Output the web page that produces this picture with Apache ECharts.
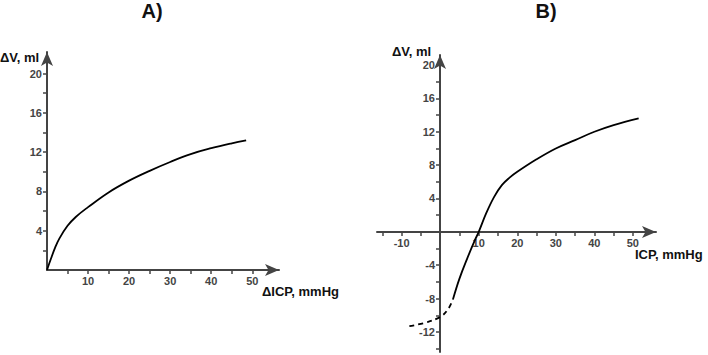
<!DOCTYPE html>
<html>
<head>
<meta charset="utf-8">
<script src="https://cdn.jsdelivr.net/npm/echarts@6/dist/echarts.min.js"></script>
<style>
  html, body { margin: 0; padding: 0; background: #fff; }
  #chart { width: 708px; height: 355px; }
</style>
</head>
<body>
<div id="chart"></div>
<script>
  // panel A: volume change vs ICP change
  const curveA = [
    [0, 0], [1, 1.2], [2, 2.3], [3, 3.2], [5, 4.5], [7, 5.4], [10, 6.4],
    [15, 7.9], [20, 9.1], [25, 10.1], [30, 11.0], [35, 11.8], [40, 12.4],
    [45, 12.9], [48.5, 13.2]
  ]
  // panel B: solid part and dashed low-pressure part
  const curveBSolid = [
    [3.3, -8.1], [5, -5.6], [7, -3.2], [9, -1.0], [10, 0], [12, 2.3],
    [14, 4.2], [16, 5.6], [18, 6.5], [20, 7.2], [25, 8.7], [30, 10.0],
    [35, 11.0], [40, 12.0], [45, 12.8], [51.5, 13.6]
  ]
  const curveBDashed = [
    [-8, -11.3], [-4, -10.9], [0, -10.2], [2, -9.3], [3.3, -8.1]
  ]
  const ticksAX = [5, 10, 15, 20, 25, 30, 35, 40, 45, 50]
  const labelsAX = [10, 20, 30, 40, 50]
  const ticksAY = [2, 4, 6, 8, 10, 12, 14, 16, 18, 20]
  const labelsAY = [4, 8, 12, 16, 20]
  const ticksBX = [-15, -10, -5, 5, 10, 15, 20, 25, 30, 35, 40, 45, 50]
  const labelsBX = [-10, 10, 20, 30, 40, 50]
  const ticksBY = [-14, -12, -10, -8, -6, -4, -2, 2, 4, 6, 8, 10, 12, 14, 16, 18, 20]
  const labelsBY = [-12, -8, -4, 4, 8, 12, 16, 20]

  const axisColor = '#444'
  const font = '"Liberation Sans", Arial, sans-serif'

  function axis (min, max, ticks, labels, extra) {
    return Object.assign({
      type: 'value',
      min: min,
      max: max,
      splitLine: { show: false },
      axisLine: {
        show: true,
        onZero: false,
        symbol: ['none', 'arrow'],
        symbolSize: [9, 14],
        lineStyle: { color: axisColor, width: 2 }
      },
      axisTick: { show: true, customValues: ticks, length: 4, lineStyle: { color: axisColor, width: 1.5 } },
      axisLabel: {
        customValues: labels,
        color: '#444',
        fontSize: 11,
        fontWeight: 'bold',
        fontFamily: font,
        margin: 5
      }
    }, extra || {})
  }

  function label (text, x, y, size, align) {
    return {
      type: 'text',
      x: x,
      y: y,
      style: {
        text: text,
        fill: '#111',
        font: 'bold ' + size + 'px ' + font,
        align: align || 'left',
        verticalAlign: 'middle'
      }
    }
  }

  const chart = echarts.init(document.getElementById('chart'), null, { renderer: 'svg' })
  chart.setOption({
    backgroundColor: '#fff',
    animation: false,
    grid: [
      { left: 47, top: 52, width: 232, height: 218 },
      { left: 377, top: 55, width: 279, height: 297 }
    ],
    xAxis: [
      axis(0, 56.5, ticksAX, labelsAX, { gridIndex: 0 }),
      // pulled up onto the y = 0 line of panel B
      axis(-16.4, 56, ticksBX, labelsBX, { gridIndex: 1, offset: -120 })
    ],
    yAxis: [
      axis(0, 22.2, ticksAY, labelsAY, { gridIndex: 0 }),
      // pulled right onto the x = 0 line of panel B
      axis(-14.4, 21.2, ticksBY, labelsBY, { gridIndex: 1, offset: -63 })
    ],
    series: [
      {
        type: 'line', xAxisIndex: 0, yAxisIndex: 0, data: curveA,
        smooth: 0.4, showSymbol: false,
        lineStyle: { color: '#000', width: 1.8 }
      },
      {
        type: 'line', xAxisIndex: 1, yAxisIndex: 1, data: curveBSolid,
        smooth: 0.4, showSymbol: false,
        lineStyle: { color: '#000', width: 1.8 }
      },
      {
        type: 'line', xAxisIndex: 1, yAxisIndex: 1, data: curveBDashed,
        smooth: 0.4, showSymbol: false,
        lineStyle: { color: '#000', width: 1.8, type: [5, 4] }
      }
    ],
    graphic: [
      label('A)', 152, 11, 20, 'center'),
      label('B)', 546, 11, 20, 'center'),
      label('ΔV, ml', 0, 57, 13),
      label('ΔICP, mmHg', 262, 291, 13),
      label('ΔV, ml', 392, 51, 13),
      label('ICP, mmHg', 635, 254, 13)
    ]
  })
</script>
</body>
</html>
